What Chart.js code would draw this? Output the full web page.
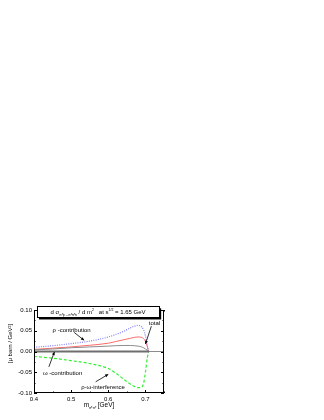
<!DOCTYPE html>
<html>
<head>
<meta charset="utf-8">
<script src="https://cdn.jsdelivr.net/npm/chart.js@4/dist/chart.umd.min.js"></script>
<style>
body{margin:0;background:#fff;}
canvas{display:block;}
</style>
</head>
<body>
<canvas id="dsChart" width="324" height="420"></canvas>
<script>
// invariant mass of the pi0 pi0 pair [GeV]
var mass      = [0.40, 0.45, 0.50, 0.55, 0.60, 0.62, 0.64, 0.66, 0.67, 0.68, 0.69, 0.695, 0.70, 0.705, 0.709, 0.75];
var rhoPart   = [0.010, 0.014, 0.019, 0.025, 0.035, 0.041, 0.048, 0.057, 0.061, 0.063, 0.059, 0.052, 0.038, 0.015, 0, 0];
var totalPart = [0.005, 0.008, 0.011, 0.015, 0.020, 0.024, 0.028, 0.032, 0.034, 0.035, 0.034, 0.031, 0.025, 0.012, 0, 0];
var omegaPart = [0.004, 0.006, 0.009, 0.011, 0.013, 0.014, 0.0145, 0.0145, 0.014, 0.013, 0.011, 0.009, 0.006, 0.003, 0, 0];
var interfPart= [-0.012, -0.016, -0.022, -0.029, -0.041, -0.052, -0.066, -0.079, -0.084, -0.087, -0.086, -0.077, -0.050, -0.016, 0, 0];
var zeroX = [0.40, 0.71];
var zeroY = [0, 0];

var xTicks = [0.4, 0.5, 0.6, 0.7];
var xTickLabels = ['0.4', '0.5', '0.6', '0.7'];
var yTicks = [-0.10, -0.05, 0, 0.05, 0.10];
var yTickLabels = ['-0.10', '-0.05', '0.00', '0.05', '0.10'];

function pts(xs, ys){ return xs.map(function(x,i){ return {x:x, y:ys[i]}; }); }

var FONT = '"Liberation Sans", Arial, sans-serif';

// draws text made of parts with different size / vertical shift
function rich(ctx, x, y, parts){
  parts.forEach(function(p){
    ctx.font = p.s + 'px ' + FONT;
    ctx.fillText(p.t, x, y + (p.dy||0));
    x += ctx.measureText(p.t).width;
  });
}
function richWidth(ctx, parts){
  var w = 0;
  parts.forEach(function(p){ ctx.font = p.s + 'px ' + FONT; w += ctx.measureText(p.t).width; });
  return w;
}
function arrow(ctx, x1, y1, x2, y2){
  ctx.beginPath(); ctx.moveTo(x1,y1); ctx.lineTo(x2,y2); ctx.stroke();
  var a = Math.atan2(y2-y1, x2-x1), L = 3.5;
  ctx.beginPath();
  ctx.moveTo(x2,y2);
  ctx.lineTo(x2 - L*Math.cos(a-0.45), y2 - L*Math.sin(a-0.45));
  ctx.lineTo(x2 - L*Math.cos(a+0.45), y2 - L*Math.sin(a+0.45));
  ctx.closePath(); ctx.fill();
}

// labels with arrows, in data coordinates
var notes = [
  {parts:[{t:'ρ -contribution', s:6}], x:0.450, y:0.053, from:[0.508,0.046], to:[0.535,0.027]},
  {parts:[{t:'total', s:6}], x:0.709, y:0.068, from:[0.716,0.061], to:[0.700,0.018]},
  {parts:[{t:'ω -contribution', s:6}], x:0.424, y:-0.051, from:[0.440,-0.037], to:[0.455,-0.001]},
  {parts:[{t:'ρ-ω-interference', s:6}], x:0.527, y:-0.085, from:[0.566,-0.073], to:[0.600,-0.055]}
];

var framePlugin = {
  id: 'frame',
  afterDraw: function(chart){
    var ctx = chart.ctx, a = chart.chartArea, xs = chart.scales.x, ys = chart.scales.y;
    ctx.save();
    ctx.strokeStyle = '#000'; ctx.fillStyle = '#000'; ctx.lineWidth = 1;
    ctx.strokeRect(a.left+0.5, a.top+0.5, a.right-a.left-1, a.bottom-a.top-1);
    // inner ticks, major and minor
    ctx.beginPath();
    for (var v = 0.4; v <= 0.7501; v += 0.05){
      var px = Math.round(xs.getPixelForValue(v))+0.5;
      var L = (Math.abs(v*10 - Math.round(v*10)) < 1e-6) ? 3 : 1.5;
      ctx.moveTo(px, a.bottom); ctx.lineTo(px, a.bottom-L);
      ctx.moveTo(px, a.top); ctx.lineTo(px, a.top+L);
    }
    for (var w = -0.1; w <= 0.1001; w += 0.025){
      var py = Math.round(ys.getPixelForValue(w))+0.5;
      var L2 = (Math.abs(w*20 - Math.round(w*20)) < 1e-6) ? 3 : 1.5;
      ctx.moveTo(a.left, py); ctx.lineTo(a.left+L2, py);
      ctx.moveTo(a.right, py); ctx.lineTo(a.right-L2, py);
    }
    ctx.stroke();

    // title box with shadow
    var bx1 = xs.getPixelForValue(0.408), bx2 = xs.getPixelForValue(0.737);
    var by1 = ys.getPixelForValue(0.109), by2 = ys.getPixelForValue(0.082);
    ctx.fillRect(bx1+2, by1+2, bx2-bx1, by2-by1);
    ctx.fillStyle = '#fff';
    ctx.fillRect(bx1, by1, bx2-bx1, by2-by1);
    ctx.strokeRect(Math.round(bx1)+0.5, Math.round(by1)+0.5, Math.round(bx2-bx1), Math.round(by2-by1));
    ctx.fillStyle = '#000';
    ctx.textBaseline = 'alphabetic'; ctx.textAlign = 'left';
    var title = [
      {t:'d σ', s:6}, {t:'π⁰p→π⁰π⁰n', s:3.5, dy:1.5},
      {t:' / d m', s:6}, {t:'2', s:3.5, dy:-3}, {t:'   at s', s:6}, {t:'1/2', s:3.5, dy:-3},
      {t:' = 1.65 GeV', s:6}
    ];
    rich(ctx, (bx1+bx2)/2 - richWidth(ctx, title)/2, (by1+by2)/2 + 2.2, title);

    // annotations
    ctx.lineWidth = 0.8;
    notes.forEach(function(n){
      rich(ctx, xs.getPixelForValue(n.x), ys.getPixelForValue(n.y) + 2, n.parts);
      arrow(ctx, xs.getPixelForValue(n.from[0]), ys.getPixelForValue(n.from[1]),
                 xs.getPixelForValue(n.to[0]), ys.getPixelForValue(n.to[1]));
    });

    // axis titles
    var xt = [{t:'m', s:6.5}, {t:'π⁰π⁰', s:3.5, dy:1.5}, {t:' [GeV]', s:6.5}];
    rich(ctx, (a.left+a.right)/2 - richWidth(ctx, xt)/2, a.bottom + 14, xt);
    ctx.translate(12, (a.top+a.bottom)/2 - 8);
    ctx.rotate(-Math.PI/2);
    var yt = [{t:'[μ barn / GeV²]', s:6}];
    rich(ctx, -richWidth(ctx, yt)/2, 0, yt);
    ctx.restore();
  }
};

var ctxC = document.getElementById('dsChart').getContext('2d');
var dsChart = new Chart(ctxC, {
  type: 'line',
  data: {
    datasets: [
      {label:'zero', data: pts(zeroX, zeroY), borderColor:'#6e6e6e', borderWidth:2, pointRadius:0},
      {label:'ω-contribution', data: pts(mass, omegaPart), borderColor:'#8c8c8c', borderWidth:1, pointRadius:0, cubicInterpolationMode:'monotone'},
      {label:'ρ-contribution', data: pts(mass, rhoPart), borderColor:'#7f7fff', borderWidth:1.2, borderDash:[1,1.3], pointRadius:0, cubicInterpolationMode:'monotone'},
      {label:'total', data: pts(mass, totalPart), borderColor:'#ff6a6a', borderWidth:1, pointRadius:0, cubicInterpolationMode:'monotone'},
      {label:'ρ-ω-interference', data: pts(mass, interfPart), borderColor:'#33ee33', borderWidth:1.2, borderDash:[3,2], pointRadius:0, cubicInterpolationMode:'monotone'}
    ]
  },
  options: {
    responsive: false,
    animation: false,
    events: [],
    layout: { padding: { left: 0, right: 160, top: 310, bottom: 0 } },
    plugins: { legend: { display: false }, tooltip: { enabled: false } },
    scales: {
      x: {
        type: 'linear', min: 0.4, max: 0.75,
        grid: { display: false, drawTicks: false },
        border: { display: false },
        afterBuildTicks: function(s){ s.ticks = xTicks.map(function(v){ return {value:v}; }); },
        afterFit: function(s){ s.height = 27; },
        ticks: {
          padding: 3, maxRotation: 0, color: '#000',
          font: { family: FONT, size: 6 },
          callback: function(v){ var i = xTicks.indexOf(v); return i >= 0 ? xTickLabels[i] : ''; }
        }
      },
      y: {
        type: 'linear', min: -0.1, max: 0.1,
        grid: { display: false, drawTicks: false },
        border: { display: false },
        afterBuildTicks: function(s){ s.ticks = yTicks.map(function(v){ return {value:v}; }); },
        afterFit: function(s){ s.width = 34; },
        ticks: {
          padding: 2, color: '#000',
          font: { family: FONT, size: 6 },
          callback: function(v){
            for (var i = 0; i < yTicks.length; i++) if (Math.abs(yTicks[i]-v) < 1e-9) return yTickLabels[i];
            return '';
          }
        }
      }
    }
  },
  plugins: [framePlugin]
});
</script>
</body>
</html>
